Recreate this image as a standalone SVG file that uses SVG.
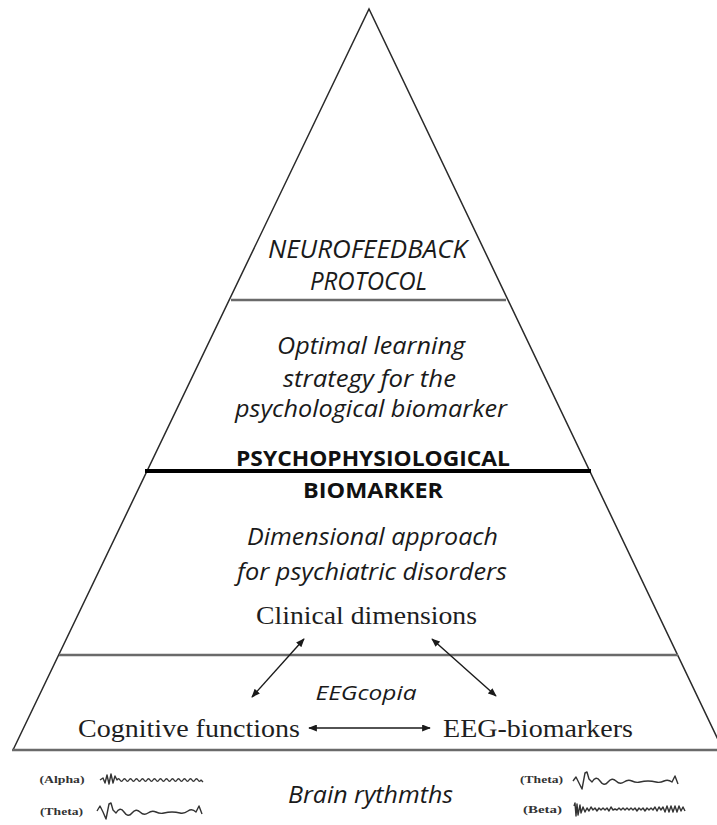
<svg xmlns="http://www.w3.org/2000/svg" width="717" height="825" viewBox="0 0 717 825">
<style>
.edge{stroke:#2a2a2a;stroke-width:1.5;fill:none}
.sep{stroke:#6a6a6a;stroke-width:2.5;fill:none}
.thick{stroke:#000;stroke-width:4;fill:none}
.it{font-family:"Open Sans","Liberation Sans",sans-serif;font-style:italic;fill:#1a1a1a;text-anchor:middle}
.bd{font-family:"Open Sans","Liberation Sans",sans-serif;font-weight:700;fill:#111;text-anchor:middle}
.sf{font-family:"Liberation Serif","Times New Roman",serif;fill:#1e1e1e;text-anchor:middle}
.sm{font-family:"Liberation Serif","Times New Roman",serif;font-weight:700;font-size:11px;fill:#333;text-anchor:middle}
.conn{stroke:#1a1a1a;stroke-width:1.4;fill:none}
.wave{stroke:#333;stroke-width:1.4;fill:none;stroke-linejoin:round}
</style>
<defs>
<marker id="ah" viewBox="0 0 10 8" refX="9" refY="4" markerWidth="9" markerHeight="7" markerUnits="userSpaceOnUse" orient="auto-start-reverse">
<path d="M0,0 L10,4 L0,8 Z" fill="#1a1a1a"/>
</marker>
</defs>
<rect width="717" height="825" fill="#fff"/>
<g id="pyramid">
<path class="edge" d="M13,750 L369,9 L723,750"/>
<line class="sep" x1="231" y1="300" x2="506" y2="300"/>
<line class="thick" x1="145" y1="471" x2="591" y2="471"/>
<line class="sep" x1="59" y1="655" x2="678" y2="655"/>
<line class="sep" x1="12" y1="750" x2="717" y2="750"/>
</g>
<g id="tier-neurofeedback">
<text class="it" x="367.5" y="258" font-size="25" textLength="199" lengthAdjust="spacingAndGlyphs">NEUROFEEDBACK</text>
<text class="it" x="368.5" y="290" font-size="25" textLength="117" lengthAdjust="spacingAndGlyphs">PROTOCOL</text>
</g>
<g id="tier-learning">
<text class="it" x="371" y="354" font-size="23" textLength="188" lengthAdjust="spacingAndGlyphs">Optimal learning</text>
<text class="it" x="369.5" y="387" font-size="23" textLength="173" lengthAdjust="spacingAndGlyphs">strategy for the</text>
<text class="it" x="371" y="417" font-size="23" textLength="272" lengthAdjust="spacingAndGlyphs">psychological biomarker</text>
</g>
<g id="tier-biomarker">
<text class="bd" x="373" y="466" font-size="22" textLength="274" lengthAdjust="spacingAndGlyphs">PSYCHOPHYSIOLOGICAL</text>
<text class="bd" x="373" y="498" font-size="22" textLength="140" lengthAdjust="spacingAndGlyphs">BIOMARKER</text>
</g>
<g id="tier-dimensional">
<text class="it" x="372.5" y="545" font-size="23" textLength="251" lengthAdjust="spacingAndGlyphs">Dimensional approach</text>
<text class="it" x="372" y="580" font-size="23" textLength="270" lengthAdjust="spacingAndGlyphs">for psychiatric disorders</text>
</g>
<g id="node-clinical">
<text class="sf" x="366.5" y="624" font-size="26" textLength="221" lengthAdjust="spacingAndGlyphs">Clinical dimensions</text>
</g>
<g id="node-eegcopia">
<text class="it" x="366" y="700" font-size="20.5" textLength="101" lengthAdjust="spacingAndGlyphs">EEGcopia</text>
</g>
<g id="node-cognitive">
<text class="sf" x="189" y="737" font-size="26" textLength="222" lengthAdjust="spacingAndGlyphs">Cognitive functions</text>
</g>
<g id="node-eegbiomarkers">
<text class="sf" x="538" y="737" font-size="26" textLength="190" lengthAdjust="spacingAndGlyphs">EEG-biomarkers</text>
</g>
<g id="connectors">
<line class="conn" x1="304" y1="639" x2="252" y2="697" marker-start="url(#ah)" marker-end="url(#ah)"/>
<line class="conn" x1="432" y1="639" x2="496" y2="696" marker-start="url(#ah)" marker-end="url(#ah)"/>
<line class="conn" x1="309" y1="728" x2="430" y2="728" marker-start="url(#ah)" marker-end="url(#ah)"/>
</g>
<g id="brain-rhythms">
<text class="it" x="370.5" y="803" font-size="23" textLength="165" lengthAdjust="spacingAndGlyphs">Brain rythmths</text>
<text class="sm" x="62" y="783" textLength="45" lengthAdjust="spacingAndGlyphs">(Alpha)</text>
<text class="sm" x="61.5" y="815" textLength="43" lengthAdjust="spacingAndGlyphs">(Theta)</text>
<text class="sm" x="541.5" y="783" textLength="43" lengthAdjust="spacingAndGlyphs">(Theta)</text>
<text class="sm" x="542.5" y="813" textLength="39" lengthAdjust="spacingAndGlyphs">(Beta)</text>
<path class="wave" d="M100,780 L103,778 L105,783 L107,775 L109,784 L111,774 L113,783 L115,776 L117,780 q1.5,-2.5 3,0 t3,0 t3,0 t3,0 t3,0 t3,0 t3,0 t3,0 t3,0 t3,0 t3,0 t3,0 t3,0 t3,0 t3,0 t3,0 t3,0 t3,0 t3,0 t3,0 t3,0 t3,0 t3,0 t3,0 t3,0 t3,0 t3,0 t3,0 l2,2"/>
<path class="wave" d="M97,811 L100,806 L103,812 L106,819 L109,804 L111,803 L113,810 L116,813 q4,-7 8,-1 t8,1 t8,-1 t8,1 t8,-1 t8,1 t8,-1 t8,1 t8,-2 t8,1 l3,-6 l3,8"/>
<path class="wave" d="M573,781 L576,777 L579,783 L582,789 L585,773 L587,772 L589,779 L592,782 q4,-7 8,-1 t8,1 t8,-1 t8,1 t8,-1 t8,1 t8,-1 t8,1 t8,-1 t8,1 l3,-6 l3,8"/>
<path class="wave" d="M574,806 L575,803 L576,816 L577,804 L578,815 L580,805 L581,813 L583,807 L585,812 L587,808 L589,811 L591,807 L593,810 L595,808 L597,811 L599,808 L601,810 L603,808 L605,810 L607,808 L609,811 L611,807 L613,810 L615,809 L617,810 L619,808 L621,810 L623,808 L625,810 L627,808 L629,810 L631,808 L633,810 L635,808 L637,811 L639,808 L641,810 L643,808 L645,811 L647,808 L649,810 L651,808 L653,810 L655,807 L657,811 L659,807 L661,810 L663,807 L665,812 L667,806 L669,812 L671,806 L673,812 L675,806 L677,812 L679,806 L681,811 L683,807 L685,811"/>
</g>
</svg>
